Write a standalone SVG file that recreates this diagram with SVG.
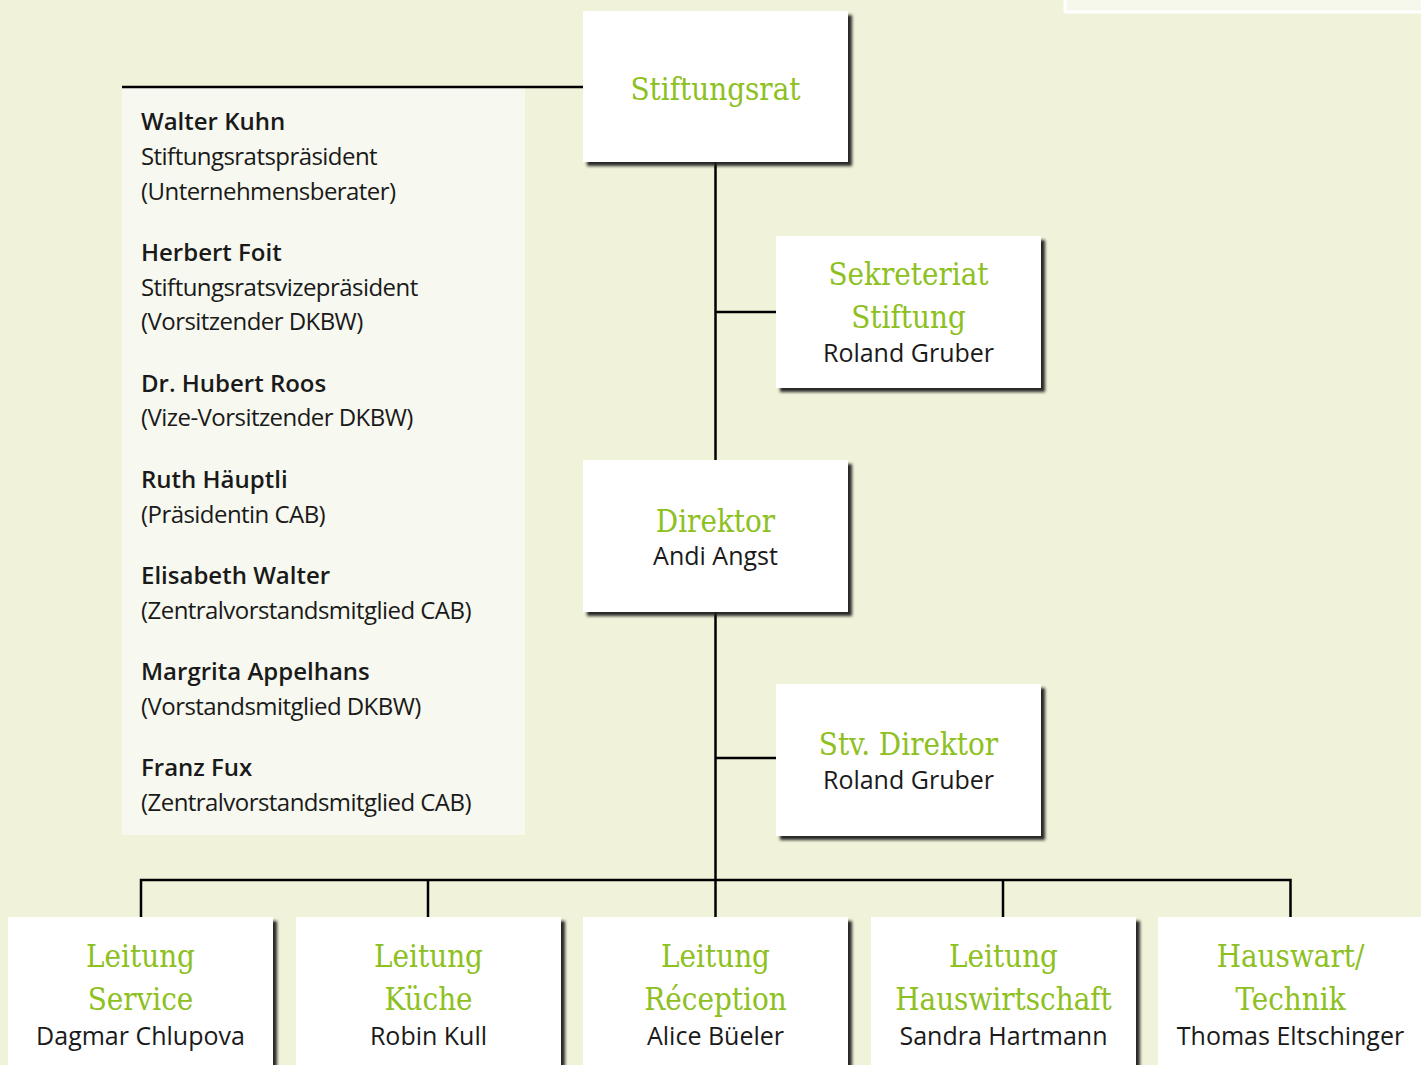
<svg xmlns="http://www.w3.org/2000/svg" width="1421" height="1065" viewBox="0 0 1421 1065">
<style>
.box{fill:#ffffff;filter:url(#sh)}
.t{font-family:"DejaVu Serif",serif;font-stretch:condensed;font-size:31px;fill:#8dc021;text-anchor:middle}
.n{font-family:"Open Sans","Noto Sans",sans-serif;font-size:25px;fill:#1a1a1a;text-anchor:middle}
.p{font-family:"Open Sans","Noto Sans",sans-serif;font-size:24px;letter-spacing:-0.55px;fill:#1a1a1a}
.pb{font-weight:600;letter-spacing:0px}
.ln{stroke:#000;stroke-width:2.5;fill:none}
</style>
<defs>
<filter id="sh" x="-5%" y="-5%" width="115%" height="115%">
<feDropShadow dx="4" dy="4" stdDeviation="1.4" flood-color="#1e1e1e" flood-opacity="0.95"/>
</filter>
</defs>
<rect width="1421" height="1065" fill="#f0f3d9"/>
<rect x="1065" y="-10" width="370" height="22" fill="#f6f8ec" stroke="#ffffff" stroke-width="3"/>
<rect x="122" y="88" width="403" height="747" fill="#f7f8ef"/>
<g id="connectors">
<path class="ln" d="M122 87H584"/>
<path class="ln" d="M715.5 162V917"/>
<path class="ln" d="M715.5 312H776"/>
<path class="ln" d="M715.5 758H776"/>
<path class="ln" d="M141 917V880H1290.5V917"/>
<path class="ln" d="M428 880V917"/>
<path class="ln" d="M1003 880V917"/>
</g>
<g id="members">
<text class="p pb" x="141" y="130">Walter Kuhn</text>
<text class="p" x="141" y="165">Stiftungsratspräsident</text>
<text class="p" x="141" y="200">(Unternehmensberater)</text>
<text class="p pb" x="141" y="261">Herbert Foit</text>
<text class="p" x="141" y="296">Stiftungsratsvizepräsident</text>
<text class="p" x="141" y="330">(Vorsitzender DKBW)</text>
<text class="p pb" x="141" y="392">Dr. Hubert Roos</text>
<text class="p" x="141" y="426">(Vize-Vorsitzender DKBW)</text>
<text class="p pb" x="141" y="488">Ruth Häuptli</text>
<text class="p" x="141" y="523">(Präsidentin CAB)</text>
<text class="p pb" x="141" y="584">Elisabeth Walter</text>
<text class="p" x="141" y="619">(Zentralvorstandsmitglied CAB)</text>
<text class="p pb" x="141" y="680">Margrita Appelhans</text>
<text class="p" x="141" y="715">(Vorstandsmitglied DKBW)</text>
<text class="p pb" x="141" y="776">Franz Fux</text>
<text class="p" x="141" y="811">(Zentralvorstandsmitglied CAB)</text>
</g>
<g id="stiftungsrat">
<rect class="box" x="583" y="11" width="265" height="151"/>
<text class="t" x="715.5" y="100">Stiftungsrat</text>
</g>
<g id="sekreteriat">
<rect class="box" x="776" y="236" width="265" height="152"/>
<text class="t" x="908.5" y="285">Sekreteriat</text>
<text class="t" x="908.5" y="328">Stiftung</text>
<text class="n" x="908.5" y="362">Roland Gruber</text>
</g>
<g id="direktor">
<rect class="box" x="583" y="460" width="265" height="152"/>
<text class="t" x="715.5" y="532">Direktor</text>
<text class="n" x="715.5" y="565">Andi Angst</text>
</g>
<g id="stv-direktor">
<rect class="box" x="776" y="684" width="265" height="152"/>
<text class="t" x="908.5" y="755">Stv. Direktor</text>
<text class="n" x="908.5" y="789">Roland Gruber</text>
</g>
<g id="service">
<rect class="box" x="8" y="917" width="265" height="160"/>
<text class="t" x="140.5" y="967">Leitung</text>
<text class="t" x="140.5" y="1010">Service</text>
<text class="n" x="140.5" y="1045">Dagmar Chlupova</text>
</g>
<g id="kueche">
<rect class="box" x="296" y="917" width="265" height="160"/>
<text class="t" x="428.5" y="967">Leitung</text>
<text class="t" x="428.5" y="1010">Küche</text>
<text class="n" x="428.5" y="1045">Robin Kull</text>
</g>
<g id="reception">
<rect class="box" x="583" y="917" width="265" height="160"/>
<text class="t" x="715.5" y="967">Leitung</text>
<text class="t" x="715.5" y="1010">Réception</text>
<text class="n" x="715.5" y="1045">Alice Büeler</text>
</g>
<g id="hauswirtschaft">
<rect class="box" x="871" y="917" width="265" height="160"/>
<text class="t" x="1003.5" y="967">Leitung</text>
<text class="t" x="1003.5" y="1010">Hauswirtschaft</text>
<text class="n" x="1003.5" y="1045">Sandra Hartmann</text>
</g>
<g id="hauswart">
<rect class="box" x="1158" y="917" width="280" height="160"/>
<text class="t" x="1290.5" y="967">Hauswart/</text>
<text class="t" x="1290.5" y="1010">Technik</text>
<text class="n" x="1290.5" y="1045">Thomas Eltschinger</text>
</g>
</svg>
